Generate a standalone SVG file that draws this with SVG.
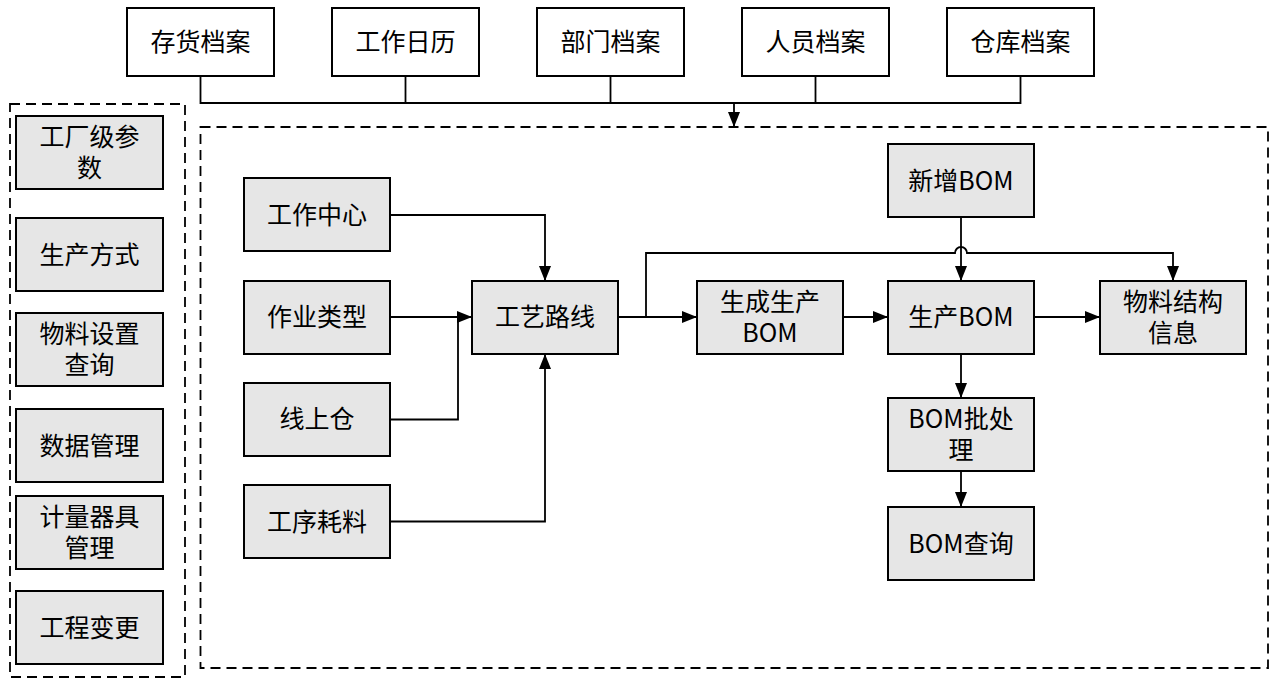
<svg xmlns="http://www.w3.org/2000/svg" width="1276" height="679" viewBox="0 0 1276 679">
<style>
.top rect{fill:#ffffff;stroke:#000;stroke-width:2}
.n rect{fill:#e6e6e6;stroke:#000;stroke-width:2}
text{font-family:"Noto Sans CJK SC","Microsoft YaHei",sans-serif;font-size:25px;fill:#000;text-anchor:middle}
.dash{fill:none;stroke:#000;stroke-width:1.8;stroke-dasharray:10 6}
#connectors path{fill:none;stroke:#000;stroke-width:1.8}
</style>
<defs>
<marker id="arr" markerUnits="userSpaceOnUse" markerWidth="15" markerHeight="12" refX="15" refY="6" orient="auto">
<path d="M0,0 L15,6 L0,12 z" fill="#000"/>
</marker>
</defs>
<rect width="1276" height="679" fill="#fff"/>
<rect class="dash" x="10" y="104" width="175" height="573"/>
<rect class="dash" x="200.5" y="127" width="1067.5" height="541"/>

<g id="n_chdda" class="top"><rect x="127" y="8" width="147" height="68"/><text x="200.5" y="51">存货档案</text></g>
<g id="n_gzrl" class="top"><rect x="332" y="8" width="147" height="68"/><text x="405.5" y="51">工作日历</text></g>
<g id="n_bmda" class="top"><rect x="537" y="8" width="147" height="68"/><text x="610.5" y="51">部门档案</text></g>
<g id="n_ryda" class="top"><rect x="742" y="8" width="147" height="68"/><text x="815.5" y="51">人员档案</text></g>
<g id="n_ckda" class="top"><rect x="947" y="8" width="147" height="68"/><text x="1020.5" y="51">仓库档案</text></g>

<g id="n_gcjcs" class="n"><rect x="16" y="116" width="147" height="73"/><text x="89.5" y="146">工厂级参<tspan x="89.5" dy="31">数</tspan></text></g>
<g id="n_scfs" class="n"><rect x="16" y="218" width="147" height="73"/><text x="89.5" y="264">生产方式</text></g>
<g id="n_wlszcx" class="n"><rect x="16" y="313" width="147" height="73"/><text x="89.5" y="343">物料设置<tspan x="89.5" dy="31">查询</tspan></text></g>
<g id="n_sjgl" class="n"><rect x="16" y="409" width="147" height="73"/><text x="89.5" y="455">数据管理</text></g>
<g id="n_jlqjgl" class="n"><rect x="16" y="496" width="147" height="73"/><text x="89.5" y="526">计量器具<tspan x="89.5" dy="31">管理</tspan></text></g>
<g id="n_gcbg" class="n"><rect x="16" y="591" width="147" height="73"/><text x="89.5" y="637">工程变更</text></g>

<g id="n_gzzx" class="n"><rect x="244" y="178" width="146" height="73"/><text x="317" y="224">工作中心</text></g>
<g id="n_zylx" class="n"><rect x="244" y="281" width="146" height="73"/><text x="317" y="326">作业类型</text></g>
<g id="n_xsc" class="n"><rect x="244" y="383" width="146" height="73"/><text x="317" y="428">线上仓</text></g>
<g id="n_gxhl" class="n"><rect x="244" y="485" width="146" height="73"/><text x="317" y="531">工序耗料</text></g>
<g id="n_gylx" class="n"><rect x="472" y="281" width="146" height="73"/><text x="545" y="326">工艺路线</text></g>
<g id="n_scscbom" class="n"><rect x="697" y="281" width="146" height="73"/><text x="770" y="311">生成生产<tspan x="770" dy="31">BOM</tspan></text></g>
<g id="n_xzbom" class="n"><rect x="888" y="144" width="146" height="73"/><text x="961" y="190">新增BOM</text></g>
<g id="n_scbom" class="n"><rect x="888" y="281" width="146" height="73"/><text x="961" y="326">生产BOM</text></g>
<g id="n_wljgxx" class="n"><rect x="1100" y="281" width="146" height="73"/><text x="1173" y="311">物料结构<tspan x="1173" dy="31">信息</tspan></text></g>
<g id="n_bompcl" class="n"><rect x="888" y="398" width="146" height="73"/><text x="961" y="428">BOM批处<tspan x="961" dy="31">理</tspan></text></g>
<g id="n_bomcx" class="n"><rect x="888" y="507" width="146" height="73"/><text x="961" y="553">BOM查询</text></g>

<g id="connectors">
<path d="M200.5,76 V103 H1020.5 V76"/>
<path d="M405.5,76 V103"/>
<path d="M610.5,76 V103"/>
<path d="M815.5,76 V103"/>
<path d="M734,103 V127" marker-end="url(#arr)"/>
<path d="M390,215 H545 V281" marker-end="url(#arr)"/>
<path d="M390,317 H472" marker-end="url(#arr)"/>
<path d="M390,419.5 H458 V317"/>
<path d="M390,521.5 H545 V354" marker-end="url(#arr)"/>
<path d="M618,317 H697" marker-end="url(#arr)"/>
<path d="M646,317 V253 H955 A6,6 0 0 1 967,253 H1173 V281" marker-end="url(#arr)"/>
<path d="M961,217 V281" marker-end="url(#arr)"/>
<path d="M843,317 H888" marker-end="url(#arr)"/>
<path d="M1034,317 H1100" marker-end="url(#arr)"/>
<path d="M961,354 V398" marker-end="url(#arr)"/>
<path d="M961,471 V507" marker-end="url(#arr)"/>
</g>
</svg>
